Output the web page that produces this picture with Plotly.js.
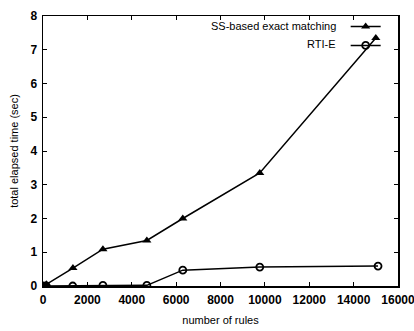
<!DOCTYPE html>
<html><head><meta charset="utf-8">
<script src="https://cdn.plot.ly/plotly-3.0.1.min.js"></script>
<style>body{margin:0;background:#fff}#chart{width:414px;height:331px}</style>
</head><body><div id="chart"></div>
<script>
const seriesNames = ["SS-based exact matching", "RTI-E"];
const ssRules = [0, 150, 1350, 2700, 4680, 6300, 9770, 15000];
const ssTime  = [0, 0.05, 0.53, 1.09, 1.35, 2.0, 3.35, 7.35];
const rtiRules = [0, 150, 1340, 2700, 4680, 6300, 9770, 15100];
const rtiTime  = [0, 0.0, 0.0, 0.02, 0.02, 0.47, 0.56, 0.59];
const xTicks = [0, 2000, 4000, 6000, 8000, 10000, 12000, 14000, 16000];
const yTicks = [0, 1, 2, 3, 4, 5, 6, 7, 8];
const xLabel = "number of rules";
const yLabel = "total elapsed time (sec)";

const font = "Liberation Sans, Arial, sans-serif";
const traces = [
  {x: ssRules, y: ssTime, name: " ", mode: "lines+markers",
   line: {color: "#000", width: 1.5},
   marker: {symbol: "triangle-up", size: 8, color: "#000"}},
  {x: rtiRules, y: rtiTime, name: " ", mode: "lines+markers",
   line: {color: "#000", width: 1.5},
   marker: {symbol: "circle-open", size: 7, color: "#000", line: {width: 1.8, color: "#000"}}}
];
const axisCommon = {
  showline: true, mirror: "ticks", linecolor: "#000", linewidth: 1.5,
  ticks: "inside", ticklen: 4, tickcolor: "#000", tickwidth: 1,
  showgrid: false, zeroline: false, ticklabelstandoff: 2,
  ticklabeloverflow: "allow",
  tickfont: {family: font, size: 12, color: "#000", weight: "bold"}
};
const layout = {
  width: 414, height: 331,
  margin: {l: 43, r: 16, t: 14, b: 45},
  paper_bgcolor: "#fff", plot_bgcolor: "#fff",
  xaxis: Object.assign({}, axisCommon, {range: [0, 16000], tickvals: xTicks,
    ticktext: xTicks.map(String),
    title: {text: xLabel, font: {family: font, size: 11, color: "#000"}, standoff: 10}}),
  yaxis: Object.assign({}, axisCommon, {range: [0, 8], tickvals: yTicks,
    title: {text: yLabel, font: {family: font, size: 11, color: "#000"}, standoff: 9}}),
  showlegend: true,
  legend: {x: 0.985, xanchor: "right", y: 1.015, yanchor: "top",
    bgcolor: "rgba(0,0,0,0)", font: {family: font, size: 6},
    itemwidth: 30, tracegroupgap: 0},
  annotations: [
    {text: seriesNames[0], xref: "paper", yref: "paper", x: 0.832, y: 0.963,
     xanchor: "right", yanchor: "middle", showarrow: false,
     font: {family: font, size: 11, color: "#000"}},
    {text: seriesNames[1], xref: "paper", yref: "paper", x: 0.832, y: 0.895,
     xanchor: "right", yanchor: "middle", showarrow: false,
     font: {family: font, size: 11, color: "#000"}}
  ]
};
Plotly.newPlot("chart", traces, layout, {displayModeBar: false, staticPlot: true});
</script></body></html>
